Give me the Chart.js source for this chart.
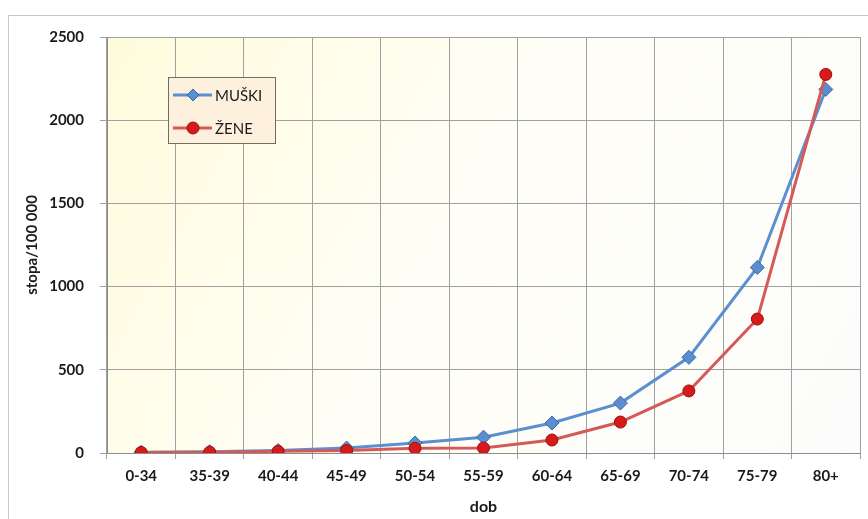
<!DOCTYPE html>
<html>
<head>
<meta charset="utf-8">
<script src="https://cdn.jsdelivr.net/npm/chart.js@4"></script>
<style>
  html, body { margin: 0; padding: 0; background: #fff; }
  #wrap { width: 868px; height: 519px; }
</style>
</head>
<body>
<div id="wrap"><canvas id="myChart"></canvas></div>
<script>
// podaci
var categories = ["0-34", "35-39", "40-44", "45-49", "50-54", "55-59", "60-64", "65-69", "70-74", "75-79", "80+"];
var muski = [5, 8, 15, 30, 60, 95, 180, 300, 575, 1115, 2185];
var zene = [3, 5, 10, 15, 28, 30, 78, 186, 373, 805, 2275];
var yTicks = [0, 500, 1000, 1500, 2000, 2500];

var FONT = "Lato, 'Open Sans', sans-serif";

// pozadina, okvir i legenda
var decorPlugin = {
    id: "decor",
    beforeDraw: function(chart) {
        var ctx = chart.ctx;
        var a = chart.chartArea;
        ctx.save();
        // vanjski okvir
        ctx.strokeStyle = "#c8c8c8";
        ctx.lineWidth = 1;
        ctx.strokeRect(8.5, 15.5, 1000, 1000);
        // gradijent plohe
        var g = ctx.createLinearGradient(a.left, a.top, a.right, a.bottom);
        g.addColorStop(0, "#fffbdc");
        g.addColorStop(0.45, "#fffef6");
        g.addColorStop(1, "#fcfcfc");
        ctx.fillStyle = g;
        ctx.fillRect(a.left, a.top, a.right - a.left, a.bottom - a.top);
        ctx.restore();
    },
    afterDraw: function(chart) {
        var ctx = chart.ctx;
        ctx.save();
        var bx = 168.5, by = 77.5, bw = 107, bh = 66;
        ctx.fillStyle = "#fdf0dc";
        ctx.fillRect(bx, by, bw, bh);
        ctx.strokeStyle = "#6e6e62";
        ctx.lineWidth = 1;
        ctx.strokeRect(bx, by, bw, bh);
        var rows = [95, 128];
        chart.data.datasets.forEach(function(ds, i) {
            var y = rows[i];
            ctx.strokeStyle = ds.borderColor;
            ctx.lineWidth = 3;
            ctx.beginPath();
            ctx.moveTo(173, y);
            ctx.lineTo(212, y);
            ctx.stroke();
            ctx.fillStyle = ds.pointBackgroundColor;
            ctx.strokeStyle = ds.pointBorderColor;
            ctx.lineWidth = 1;
            ctx.beginPath();
            if (ds.pointStyle === "rectRot") {
                ctx.moveTo(193, y - 6);
                ctx.lineTo(199, y);
                ctx.lineTo(193, y + 6);
                ctx.lineTo(187, y);
                ctx.closePath();
            } else {
                ctx.arc(193, y, 6, 0, Math.PI * 2);
            }
            ctx.fill();
            ctx.stroke();
            ctx.fillStyle = "#1a1a1a";
            ctx.font = "15px " + FONT;
            ctx.textBaseline = "middle";
            ctx.fillText(ds.label, 215, y + 1);
        });
        ctx.restore();
    }
};

var canvas = document.getElementById("myChart");
var myChart = new Chart(canvas, {
    type: "line",
    data: {
        labels: categories,
        datasets: [
            {
                label: "MUŠKI",
                data: muski,
                borderColor: "#5b8fcf",
                borderWidth: 3,
                pointStyle: "rectRot",
                pointRadius: 7,
                pointBackgroundColor: "#5a8ed0",
                pointBorderColor: "#3a6aa6",
                pointBorderWidth: 1,
                tension: 0,
                order: 1
            },
            {
                label: "ŽENE",
                data: zene,
                borderColor: "#d45a58",
                borderWidth: 3,
                pointStyle: "circle",
                pointRadius: 6,
                pointBackgroundColor: "#d81a1a",
                pointBorderColor: "#961010",
                pointBorderWidth: 1,
                tension: 0,
                order: 0
            }
        ]
    },
    options: {
        responsive: true,
        maintainAspectRatio: false,
        animation: false,
        layout: { padding: { top: 37, right: 6, left: 0, bottom: 0 } },
        plugins: {
            legend: { display: false },
            tooltip: { enabled: false }
        },
        scales: {
            x: {
                offset: true,
                grid: { offset: true, color: "#a0a0a0", tickLength: 6, lineWidth: 1 },
                border: { color: "#8c8c8c" },
                ticks: {
                    color: "#1a1a1a",
                    padding: 8,
                    maxRotation: 0,
                    autoSkip: false,
                    font: { family: FONT, size: 15, weight: "bold" }
                },
                title: {
                    display: true,
                    text: "dob",
                    color: "#1a1a1a",
                    padding: { top: 0, bottom: 3 },
                    font: { family: FONT, size: 16, weight: "bold" }
                },
                afterFit: function(s) { s.height = 66; }
            },
            y: {
                min: 0,
                max: 2500,
                afterBuildTicks: function(s) {
                    s.ticks = yTicks.map(function(v) { return { value: v }; });
                },
                grid: { color: "#a0a0a0", tickLength: 7, lineWidth: 1 },
                border: { color: "#8c8c8c" },
                ticks: {
                    color: "#1a1a1a",
                    padding: 16,
                    font: { family: FONT, size: 15, weight: "bold" },
                    callback: function(v) { return String(v); }
                },
                title: {
                    display: true,
                    text: "stopa/100 000",
                    color: "#1a1a1a",
                    padding: { top: 23, bottom: 0 },
                    font: { family: FONT, size: 15, weight: "bold" }
                },
                afterFit: function(s) { s.width = 107; }
            }
        }
    },
    plugins: [decorPlugin]
});
</script>
</body>
</html>
